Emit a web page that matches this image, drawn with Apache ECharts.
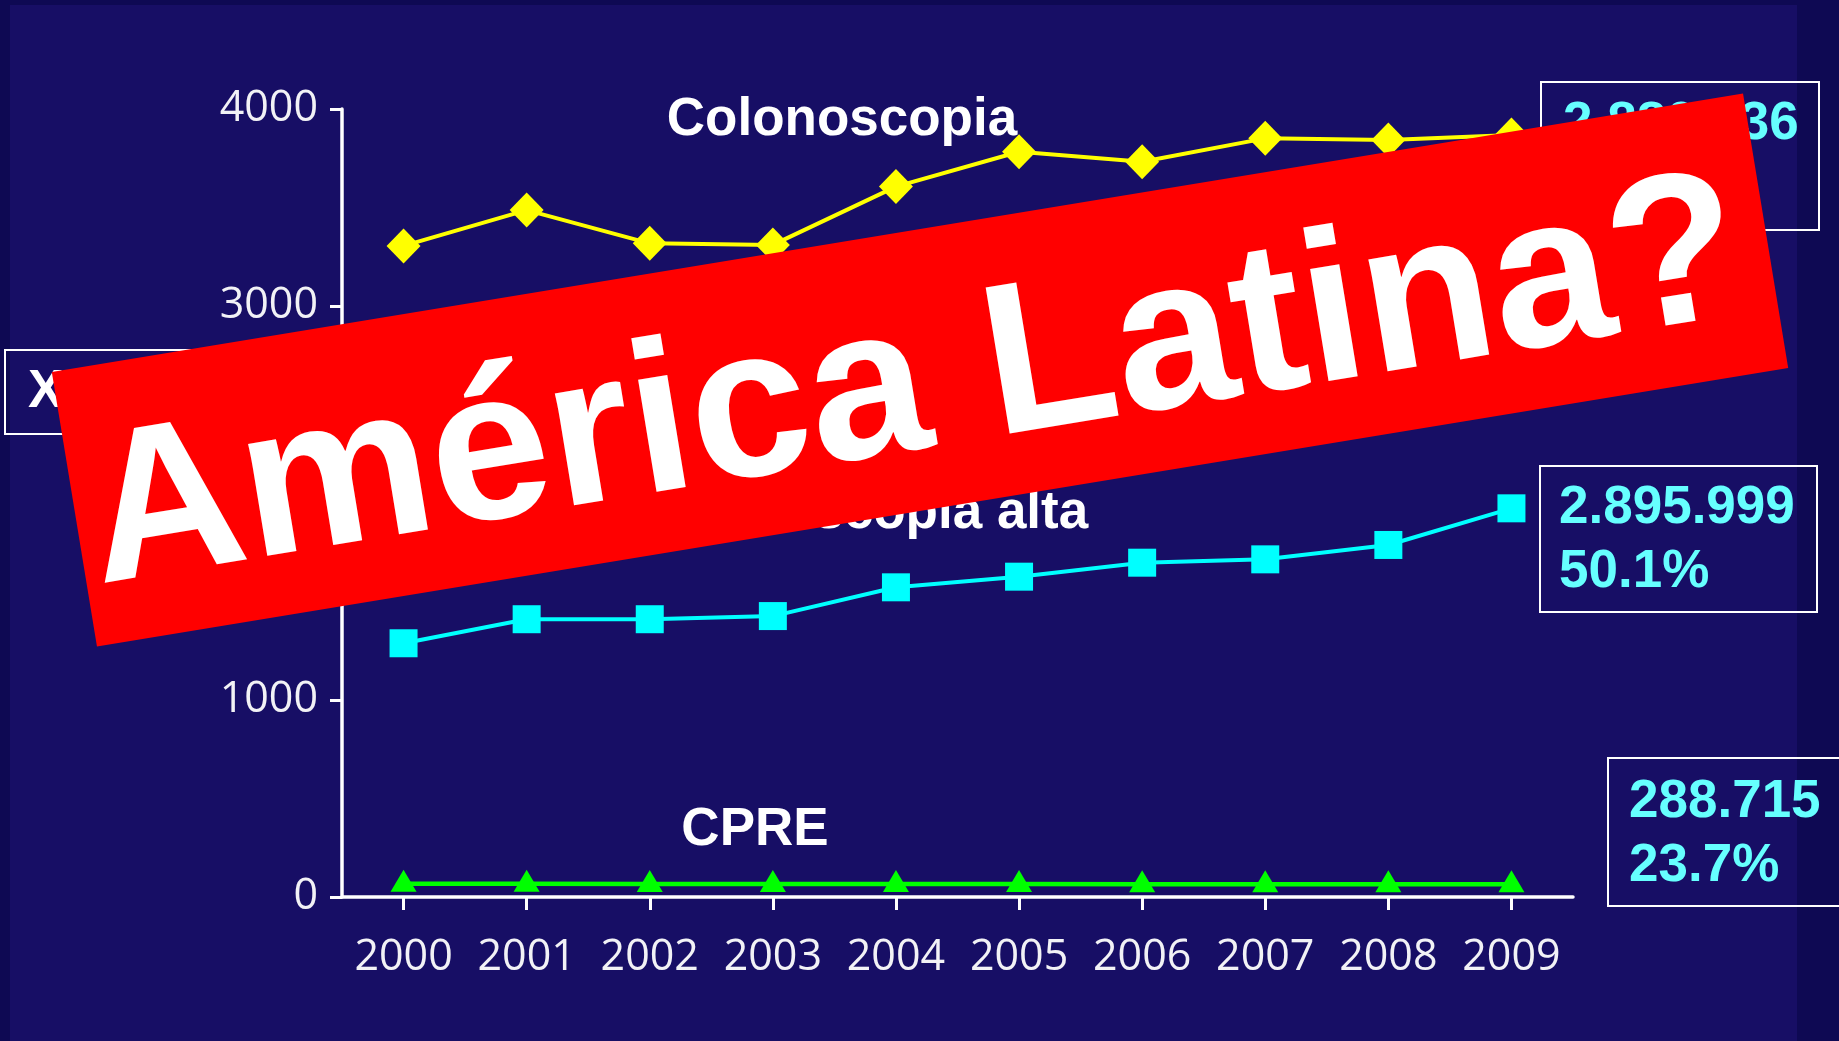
<!DOCTYPE html>
<html>
<head>
<meta charset="utf-8">
<title>Endoscopia 2000-2009</title>
<script src="https://cdn.jsdelivr.net/npm/echarts@6/dist/echarts.min.js"></script>
<style>
  html, body { margin: 0; padding: 0; width: 1839px; height: 1041px; overflow: hidden; background: #0e0953; }
  #panel { position: absolute; left: 10px; top: 5px; width: 1787px; height: 1036px; background: #170e65; }
  #chart { position: absolute; left: 0; top: 0; width: 1839px; height: 1041px; }
</style>
</head>
<body>
<div id="panel"></div>
<div id="chart"></div>
<script>
// Procedures per year (thousands)
const years = ['2000', '2001', '2002', '2003', '2004', '2005', '2006', '2007', '2008', '2009'];
const colonoscopia = [3305, 3487, 3318, 3310, 3606, 3783, 3732, 3851, 3843, 3868];
const endoscopiaAlta = [1288, 1410, 1410, 1426, 1572, 1626, 1697, 1714, 1787, 1973];
const cpre = [67, 67, 66, 66, 66, 66, 65, 65, 65, 65];
const yTickLabels = ['0', '1000', '2000', '3000', '4000'];
const yStep = 1000;

// Totals shown in the side boxes
const boxColonoscopia = ['2.880.636', '17.5%'];
const boxEndoscopia = ['2.895.999', '50.1%'];
const boxCpre = ['288.715', '23.7%'];

const BOLD = 'bold 53px "Liberation Sans", Arial, sans-serif';
const AXIS_FONT = '"Open Sans", "Noto Sans", sans-serif';

function caption(text, x, y) {
  return {
    type: 'text', x: x, y: y, z: 50,
    style: { text: text, fill: '#ffffff', font: BOLD, textAlign: 'center', textVerticalAlign: 'middle', align: 'center', verticalAlign: 'middle' }
  };
}
function boxText(text, x, y) {
  return {
    type: 'text', x: x, y: y, z: 50,
    style: { text: text, fill: '#66ffff', font: BOLD, textAlign: 'left', textVerticalAlign: 'middle', align: 'left', verticalAlign: 'middle' }
  };
}
function frame(x, y, w, h) {
  return {
    type: 'rect', z: 40,
    shape: { x: x, y: y, width: w, height: h },
    style: { fill: 'none', stroke: '#ffffff', lineWidth: 2 }
  };
}

const chart = echarts.init(document.getElementById('chart'), null, { renderer: 'canvas' });

chart.setOption({
  animation: false,
  backgroundColor: 'transparent',
  grid: { left: 342, top: 109, width: 1231, height: 788, containLabel: false },
  xAxis: {
    type: 'category',
    data: years,
    boundaryGap: true,
    axisLine: { show: true, lineStyle: { color: '#ffffff', width: 3.5 } },
    axisTick: { show: true, alignWithLabel: true, interval: 0, length: 13, lineStyle: { color: '#ffffff', width: 3 } },
    axisLabel: { color: '#f2f2f6', fontSize: 43, fontFamily: AXIS_FONT, margin: 39, interval: 0 },
    splitLine: { show: false }
  },
  yAxis: {
    type: 'value',
    min: 0, max: yStep * (yTickLabels.length - 1), interval: yStep,
    axisLine: { show: true, lineStyle: { color: '#ffffff', width: 3.5 } },
    axisTick: { show: true, length: 12, lineStyle: { color: '#ffffff', width: 3 } },
    axisLabel: {
      color: '#f2f2f6', fontSize: 43, fontFamily: AXIS_FONT, margin: 24,
      formatter: function (value) { return yTickLabels[Math.round(value / yStep)]; }
    },
    splitLine: { show: false }
  },
  series: [
    {
      name: 'Colonoscopia', type: 'line', data: colonoscopia,
      symbol: 'diamond', symbolSize: [34, 35],
      lineStyle: { color: '#ffff00', width: 4 },
      itemStyle: { color: '#ffff00' }
    },
    {
      name: 'Endoscopia alta', type: 'line', data: endoscopiaAlta,
      symbol: 'rect', symbolSize: 28,
      lineStyle: { color: '#00ffff', width: 4 },
      itemStyle: { color: '#00ffff' }
    },
    {
      name: 'CPRE', type: 'line', data: cpre,
      symbol: 'triangle', symbolSize: [26, 22], symbolOffset: [0, -3],
      lineStyle: { color: '#00ff00', width: 4.5 },
      itemStyle: { color: '#00ff00' }
    }
  ],
  graphic: [
    caption('Colonoscopia', 842, 120),
    caption('Endoscopia alta', 885, 513),
    caption('CPRE', 755, 830),

    frame(1541, 82, 278, 148),
    boxText(boxColonoscopia[0], 1563, 124),
    boxText(boxColonoscopia[1], 1563, 188),

    frame(1540, 466, 277, 146),
    boxText(boxEndoscopia[0], 1559, 508),
    boxText(boxEndoscopia[1], 1559, 572),

    frame(1608, 758, 260, 148),
    boxText(boxCpre[0], 1629, 802),
    boxText(boxCpre[1], 1629, 866),

    frame(5, 350, 260, 84),
    {
      type: 'text', x: 28, y: 392, z: 50,
      style: { text: 'X 1000', fill: '#ffffff', font: BOLD, textAlign: 'left', textVerticalAlign: 'middle', align: 'left', verticalAlign: 'middle' }
    },

    // Tilted red banner across the plot
    {
      type: 'group', x: 920, y: 370, rotation: 0.1632, z: 100,
      children: [
        {
          type: 'rect', z: 100,
          shape: { x: -857, y: -139, width: 1714, height: 278 },
          style: { fill: '#ff0000' }
        },
        {
          type: 'text', x: -8, y: 18, z: 101,
          style: {
            text: 'América Latina?', fill: '#ffffff',
            font: 'bold 215px "Liberation Sans", Arial, sans-serif',
            textAlign: 'center', textVerticalAlign: 'middle', align: 'center', verticalAlign: 'middle'
          }
        }
      ]
    }
  ]
});
</script>
</body>
</html>
